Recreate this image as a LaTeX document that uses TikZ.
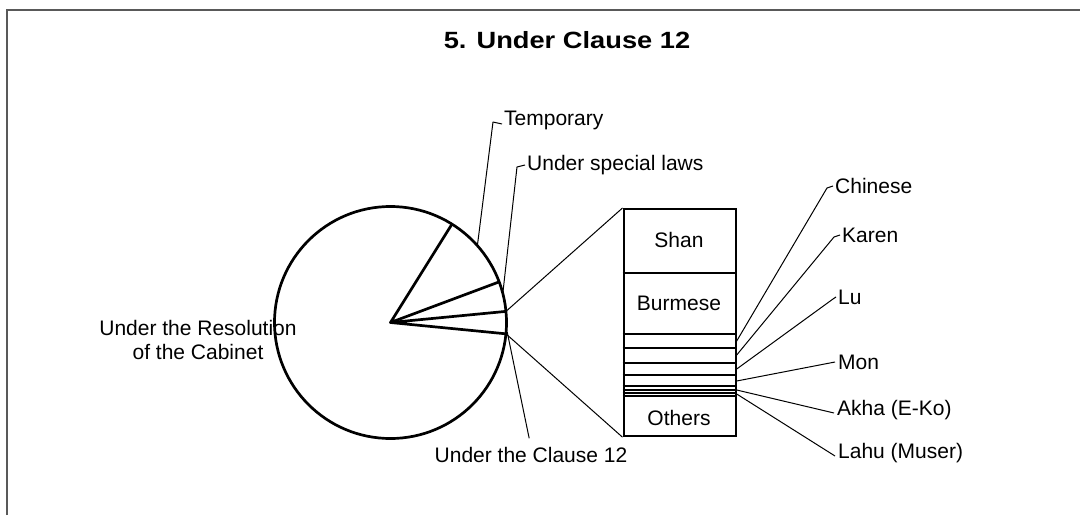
\documentclass[tikz,border=0pt]{standalone}
\usepackage{fontspec}
\setmainfont{Liberation Sans}
\usetikzlibrary{calc}
\begin{document}
\begin{tikzpicture}[x=1pt,y=-1pt,
  lbl/.style={inner sep=0pt, font=\fontsize{21}{24}\selectfont},
  pieline/.style={line width=2.7pt, line join=round},
  barline/.style={line width=2.2pt},
  divider/.style={line width=2pt},
  leader/.style={line width=1pt, line join=round},
  frameline/.style={line width=1.3pt, black!65}]
\useasboundingbox (0,0) rectangle (1080,515);

% page frame (top and left edges)
\draw[frameline] (7,515) -- (7,10) -- (1080,10);

% title
\node[inner sep=0pt, xscale=1.16, font=\bfseries\fontsize{23.5}{27}\selectfont] (title) at (567,40) {5. Under Clause 12};

% ---- pie chart ----
\coordinate (c) at (390.5,322.5);
\draw[pieline] (c) circle[radius=116pt];
\coordinate (b1) at ([shift={(58:116pt)}]c);
\coordinate (b2) at ([shift={(20.5:116pt)}]c);
\coordinate (b3) at ([shift={(5.5:116pt)}]c);
\coordinate (b4) at ([shift={(-5.6:116pt)}]c);
\draw[pieline] (b1) -- (c) -- (b2);
\draw[pieline] (b3) -- (c) -- (b4);

% slice anchor points for the leaders
\coordinate (mTemp) at ([shift={(41.5:116pt)}]c);
\coordinate (mSpec) at ([shift={(14.5:116pt)}]c);
\coordinate (mCl)   at ([shift={(-4.5:117pt)}]c);

% pie labels
\node[lbl, align=center] (resol) at (198,340) {Under the Resolution\\of the Cabinet};
\node[lbl, anchor=west] (temp) at (504,120) {\vphantom{T}Temporary};
\node[lbl, anchor=west] (spec) at (527,165) {Under special laws};
\node[lbl] (clause) at (531,455) {Under the Clause 12};

\coordinate (kTemp) at (493,122);
\coordinate (kSpec) at (517,167);
\draw[leader] (mTemp) -- (kTemp) -- ([xshift=-2pt,yshift=-4pt]temp.west);
\draw[leader] (mSpec) -- (kSpec) -- ([xshift=-2pt]spec.west);
\draw[leader, shorten >=9pt] (mCl) -- (clause.north);

% ---- stacked bar ----
\node[draw, barline, inner sep=0pt, minimum width=112pt, minimum height=227pt,
      anchor=north west] (bar) at (622.5,208) {};
\foreach \yy in {273,334,348,363,375,386,390,393,396}
  \draw[divider] (bar.west |- 0,\yy) -- (bar.east |- 0,\yy);

\node[lbl] (shan) at (679,240) {Shan};
\node[lbl] (burm) at (679,303) {Burmese};
\node[lbl] (oth)  at (679,418) {Others};

% zoom lines from the pie to the bar
\draw[leader] (b3) -- (bar.north west);
\draw[leader] (b4) -- (bar.south west);

% bar labels
\node[lbl, anchor=west] (chi)  at (835,186) {Chinese};
\node[lbl, anchor=west] (kar)  at (842,235) {Karen};
\node[lbl, anchor=west] (lu)   at (838,297) {Lu};
\node[lbl, anchor=west] (mon)  at (838,362) {Mon};
\node[lbl, anchor=west] (akha) at (837,410) {Akha (E-Ko)};
\node[lbl, anchor=west] (lahu) at (838,453) {Lahu (Muser)};

\coordinate (kChi) at (827,188);
\coordinate (kKar) at (834,237);
\coordinate (kLu)  at (833,299);
\draw[leader] (bar.east |- 0,341) -- (kChi) -- ([xshift=-2pt]chi.west);
\draw[leader] (bar.east |- 0,355) -- (kKar) -- ([xshift=-2pt]kar.west);
\draw[leader] (bar.east |- 0,369) -- (kLu)  -- ([xshift=-2pt]lu.west);
\draw[leader] (bar.east |- 0,381) -- ([xshift=-3pt]mon.west);
\draw[leader] (bar.east |- 0,390) -- ([xshift=-3pt,yshift=-3pt]akha.west);
\draw[leader] (bar.east |- 0,394) -- ([xshift=-3pt,yshift=-3pt]lahu.west);
\end{tikzpicture}
\end{document}
